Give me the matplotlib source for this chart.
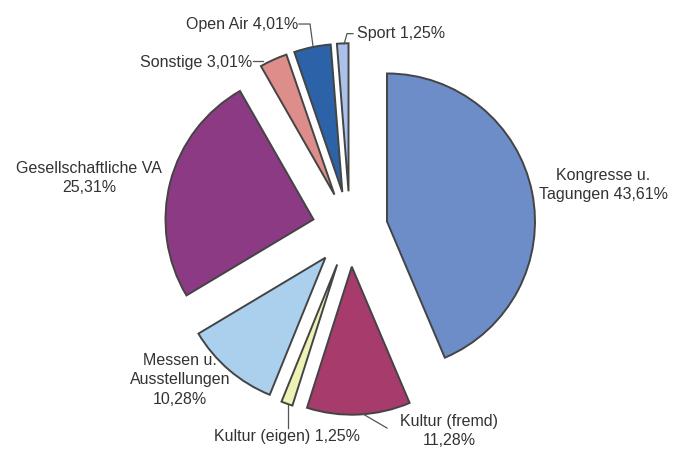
import numpy as np
import matplotlib.pyplot as plt

plt.rcParams['font.family'] = ['Liberation Sans', 'DejaVu Sans']

# Anteile der Veranstaltungsarten
namen = ['Kongresse u.\nTagungen', 'Kultur (fremd)', 'Kultur (eigen)', 'Messen u.\nAusstellungen',
         'Gesellschaftliche VA', 'Sonstige', 'Open Air', 'Sport']
werte = [43.61, 11.28, 1.25, 10.28, 25.31, 3.01, 4.01, 1.25]
farben = ['#6c8dc8', '#a63b6c', '#eef2b4', '#aad0ee', '#8c3a84', '#de8e8a', '#2c62a8', '#aac2ea']

def fmt(v):
    return ('%.2f' % v).replace('.', ',') + '%'

fig = plt.figure(figsize=(6.82, 4.5), dpi=100)
ax = fig.add_axes([0, 0, 1, 1])

ax.pie(werte, colors=farben, startangle=90, counterclock=False, radius=1.0,
       explode=[0.255] * len(werte),
       wedgeprops=dict(edgecolor='#444444', linewidth=1.4))
ax.set_xlim(-350 / 148, 332 / 148)
ax.set_ylim(-221 / 148, 229 / 148)
ax.set_aspect('equal')
ax.axis('off')

tc = '#333333'
fs = 11.5
ls = 1.35
ax.text(1.71, 0.297, namen[0] + ' ' + fmt(werte[0]), ha='center', va='center', fontsize=fs, color=tc, linespacing=ls)
ax.text(-1.764, 0.345, namen[4] + '\n' + fmt(werte[4]), ha='center', va='center', fontsize=fs, color=tc, linespacing=ls)
ax.text(-1.15, -1.02, namen[3] + '\n' + fmt(werte[3]), ha='center', va='center', fontsize=fs, color=tc, linespacing=ls)
ax.text(-0.426, -1.405, namen[2] + ' ' + fmt(werte[2]), ha='center', va='center', fontsize=fs, color=tc)
ax.text(0.669, -1.365, namen[1] + '\n' + fmt(werte[1]), ha='center', va='center', fontsize=fs, color=tc, linespacing=ls)
ax.text(-0.66, 1.128, namen[5] + ' ' + fmt(werte[5]), ha='right', va='center', fontsize=fs, color=tc)
ax.text(-0.35, 1.385, namen[6] + ' ' + fmt(werte[6]), ha='right', va='center', fontsize=fs, color=tc)
ax.text(0.05, 1.32, namen[7] + ' ' + fmt(werte[7]), ha='left', va='center', fontsize=fs, color=tc)

# Fuehrungslinien
lk = dict(color='#555555', lw=0.9)
ax.plot([-0.655, -0.59], [1.135, 1.135], **lk)
ax.plot([-0.345, -0.27, -0.25], [1.385, 1.385, 1.236], **lk)
ax.plot([0.02, -0.02, -0.04], [1.32, 1.32, 1.25], **lk)
ax.plot([-0.419, -0.419], [-1.19, -1.345], **lk)
ax.plot([0.088, 0.25], [-1.25, -1.345], **lk)

fig.savefig('out.png', dpi=100)
